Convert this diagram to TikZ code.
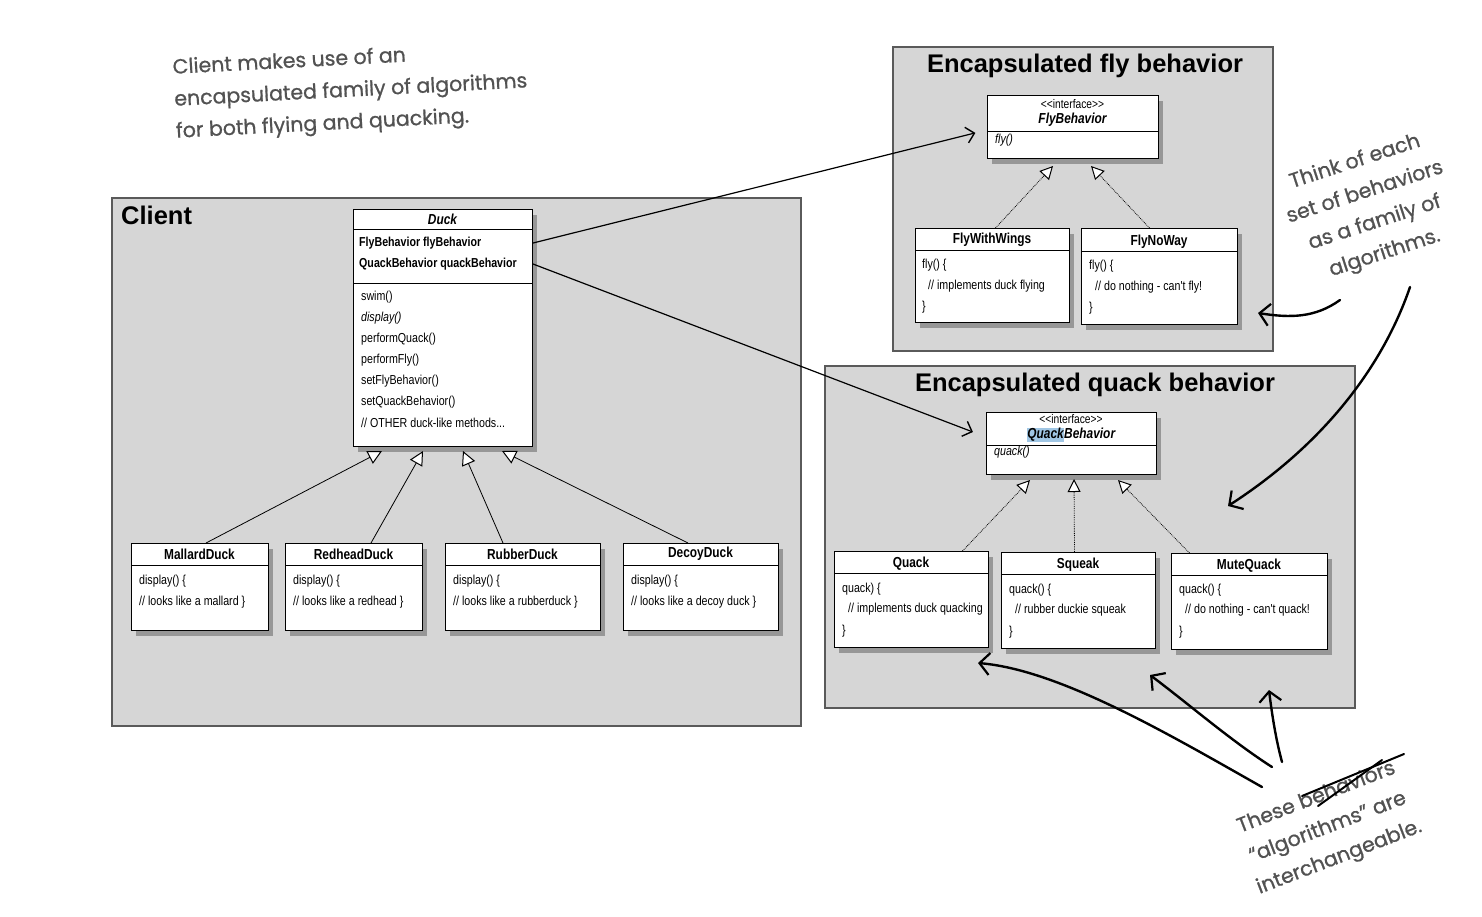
\documentclass[tikz,border=0pt]{standalone}
\usepackage{fontspec}
\setmainfont{Liberation Sans}
\newfontfamily\narrowfont[FakeStretch=0.82]{Liberation Sans}
\newfontfamily\handfont[FakeBold=0.8]{Poppins}
\usetikzlibrary{arrows.meta,shadows,calc}
\definecolor{panelfill}{RGB}{214,214,214}
\definecolor{panelline}{RGB}{90,90,90}
\definecolor{handgray}{RGB}{82,82,82}
\definecolor{hlblue}{RGB}{160,198,228}
\tikzset{
  panel/.style={draw=panelline, fill=panelfill, line width=1.8pt},
  cls/.style={draw=black, fill=white, line width=1pt, inner sep=0pt, anchor=north west,
    drop shadow={shadow xshift=4pt, shadow yshift=-5pt, opacity=0.45, fill=black!70}},
  paneltitle/.style={font=\bfseries\fontsize{25.5}{29}\selectfont, inner sep=0pt},
  clsname/.style={font=\narrowfont\bfseries\fontsize{14.5}{17}\selectfont, inner sep=0pt},
  attr/.style={font=\narrowfont\bfseries\fontsize{13}{15}\selectfont, anchor=west, inner sep=0pt},
  meth/.style={font=\narrowfont\fontsize{13}{15}\selectfont, anchor=west, inner sep=0pt},
  stereo/.style={font=\narrowfont\fontsize{12.5}{14}\selectfont, inner sep=0pt},
  inh/.style={line width=0.8pt, -{Triangle[open, fill=white, length=14pt, width=14pt, line width=1pt]}},
  impl/.style={line width=0.8pt, densely dotted, -{Triangle[open, fill=white, length=13pt, width=13pt, line width=1pt]}},
  assoc/.style={line width=1.2pt, -{Straight Barb[length=8pt, width=16pt, line width=1.4pt]}},
  handarrow/.style={line width=2.4pt, line cap=round, -{Straight Barb[length=10pt, width=22pt, line width=2.2pt]}},
  hand/.style={font=\handfont\fontsize{20.5}{32}\selectfont, text=handgray, inner sep=0pt},
}
\begin{document}
\begin{tikzpicture}[x=1pt, y=-1pt]
\useasboundingbox (0,0) rectangle (1482,916);
\fill[white] (0,0) rectangle (1482,916);

% panels
\draw[panel] (112,198) rectangle (801,726);
\draw[panel] (893,47) rectangle (1273,351);
\draw[panel] (825,366) rectangle (1355,708);
\node[paneltitle, anchor=west] (clientlbl) at (121,215) {Client};
\node[paneltitle] (flytitle) at (1085,66) {Encapsulated fly behavior};
\node[paneltitle] (quacktitle) at (1095,385) {Encapsulated quack behavior};

% Duck
\node[cls, minimum width=179pt, minimum height=237pt] (duck) at (353,209) {};
\draw[line width=1pt] (353,229) -- (532,229);
\draw[line width=1pt] (353,283) -- (532,283);
\node[clsname] (duckname) at (442.5,219) {\itshape Duck};
\node[attr] (flyattr) at (359,243) {FlyBehavior flyBehavior};
\node[attr] (quackattr) at (359,264) {QuackBehavior quackBehavior};
\node[meth] (m1) at (361,297) {swim()};
\node[meth] (m2) at (361,318) {\itshape display()};
\node[meth] (m3) at (361,339) {performQuack()};
\node[meth] (m4) at (361,360) {performFly()};
\node[meth] (m5) at (361,381) {setFlyBehavior()};
\node[meth] (m6) at (361,402) {setQuackBehavior()};
\node[meth] (m7) at (361,423) {// OTHER duck-like methods...};

% duck subclasses
\node[cls, minimum width=137pt, minimum height=87pt] (mallard) at (131,543) {};
\draw[line width=1pt] (131,565) -- (268,565);
\node[clsname] (mallardn) at (199.5,554) {MallardDuck};
\node[meth] (mallard1) at (139,581) {display() \{};
\node[meth] (mallard2) at (139,602) {// looks like a mallard \}};

\node[cls, minimum width=137pt, minimum height=87pt] (redhead) at (285,543) {};
\draw[line width=1pt] (285,565) -- (422,565);
\node[clsname] (redheadn) at (353.5,554) {RedheadDuck};
\node[meth] (redhead1) at (293,581) {display() \{};
\node[meth] (redhead2) at (293,602) {// looks like a redhead \}};

\node[cls, minimum width=155pt, minimum height=87pt] (rubber) at (445,543) {};
\draw[line width=1pt] (445,565) -- (600,565);
\node[clsname] (rubbern) at (522.5,554) {RubberDuck};
\node[meth] (rubber1) at (453,581) {display() \{};
\node[meth] (rubber2) at (453,602) {// looks like a rubberduck \}};

\node[cls, minimum width=155pt, minimum height=87pt] (decoy) at (623,543) {};
\draw[line width=1pt] (623,565) -- (778,565);
\node[clsname] (decoyn) at (700.5,554) {DecoyDuck};
\node[meth] (decoy1) at (631,581) {display() \{};
\node[meth] (decoy2) at (631,602) {// looks like a decoy duck \}};

% inheritance
\coordinate (d1) at ($(duck.south west)+(29,4)$);
\coordinate (d2) at ($(duck.south west)+(70,4)$);
\coordinate (d3) at ($(duck.south west)+(110,4)$);
\coordinate (d4) at ($(duck.south west)+(149,4)$);
\draw[inh] ($(mallard.north)+(6,0)$) -- (d1);
\draw[inh] ($(redhead.north)+(17,0)$) -- (d2);
\draw[inh] ($(rubber.north)+(-20,0)$) -- (d3);
\draw[inh] ($(decoy.north)+(-13,0)$) -- (d4);

% FlyBehavior
\node[cls, minimum width=171pt, minimum height=63pt] (flyif) at (987,95) {};
\draw[line width=1pt] (987,131) -- (1158,131);
\node[stereo] (flyst) at (1072.5,104) {<<interface>>};
\node[clsname] (flyn) at (1072.5,120) {\itshape FlyBehavior};
\node[meth] (flym) at (995,140) {\itshape fly()};

\node[cls, minimum width=154pt, minimum height=94pt] (fww) at (915,228) {};
\draw[line width=1pt] (915,250) -- (1069,250);
\node[clsname] (fwwn) at (992,240) {FlyWithWings};
\node[meth] (fww1) at (922,265) {fly() \{};
\node[meth] (fww2) at (928,286) {// implements duck flying};
\node[meth] (fww3) at (922,307) {\}};

\node[cls, minimum width=156pt, minimum height=96pt] (fnw) at (1081,228) {};
\draw[line width=1pt] (1081,251) -- (1237,251);
\node[clsname] (fnwn) at (1159,242) {FlyNoWay};
\node[meth] (fnw1) at (1089,266) {fly() \{};
\node[meth] (fnw2) at (1095,287) {// do nothing - can't fly!};
\node[meth] (fnw3) at (1089,308) {\}};

\coordinate (f1) at ($(flyif.south west)+(66,7)$);
\coordinate (f2) at ($(flyif.south west)+(104,7)$);
\draw[impl] ($(fww.north)+(3,0)$) -- (f1);
\draw[impl] ($(fnw.north)+(-10,0)$) -- (f2);

% QuackBehavior
\node[cls, minimum width=170pt, minimum height=62pt] (quackif) at (986,412) {};
\draw[line width=1pt] (986,445) -- (1156,445);
\node[stereo] (quackst) at (1071,419) {<<interface>>};
\node[clsname] (quackn) at (1071,435) {\setlength\fboxsep{0.5pt}\itshape\colorbox{hlblue}{Quack}Behavior};
\node[meth] (quackm) at (994,452) {\itshape quack()};

\node[cls, minimum width=154pt, minimum height=96pt] (qq) at (834,551) {};
\draw[line width=1pt] (834,573) -- (988,573);
\node[clsname] (qqn) at (911,564) {Quack};
\node[meth] (qq1) at (842,589) {quack) \{};
\node[meth] (qq2) at (848,609) {// implements duck quacking};
\node[meth] (qq3) at (842,631) {\}};

\node[cls, minimum width=154pt, minimum height=96pt] (sq) at (1001,552) {};
\draw[line width=1pt] (1001,574) -- (1155,574);
\node[clsname] (sqn) at (1078,565) {Squeak};
\node[meth] (sq1) at (1009,590) {quack() \{};
\node[meth] (sq2) at (1015,610) {// rubber duckie squeak};
\node[meth] (sq3) at (1009,632) {\}};

\node[cls, minimum width=156pt, minimum height=96pt] (mq) at (1171,553) {};
\draw[line width=1pt] (1171,575) -- (1327,575);
\node[clsname] (mqn) at (1249,566) {MuteQuack};
\node[meth] (mq1) at (1179,590) {quack() \{};
\node[meth] (mq2) at (1185,610) {// do nothing - can't quack!};
\node[meth] (mq3) at (1179,632) {\}};

\coordinate (q1) at ($(quackif.south west)+(44,5)$);
\coordinate (q2) at ($(quackif.south west)+(88,4)$);
\coordinate (q3) at ($(quackif.south west)+(132,5)$);
\draw[impl] ($(qq.north)+(51,0)$) -- (q1);
\draw[impl] ($(sq.north)+(-4,0)$) -- (q2);
\draw[impl] ($(mq.north)+(-60,0)$) -- (q3);

% associations
\draw[assoc, shorten >=12pt] (duck.east |- flyattr) -- (flyif.west |- 0,130);
\draw[assoc, shorten >=14pt] (duck.east |- quackattr) -- (quackif.west |- 0,437);

% handwritten notes
\node[hand, align=left, rotate=3, anchor=north west] (note1) at (172,58)
  {Client makes use of an\\encapsulated family of algorithms\\for both flying and quacking.};
\node[hand, align=center, rotate=18] (note2) at (1370,208)
  {Think of each\\set of behaviors\\as a family of\\algorithms.};
\node[hand, align=center, rotate=21] (note3) at (1328,828)
  {These behaviors\\“algorithms” are\\interchangeable.};
\draw[line width=2pt, line cap=round] (1302,796) -- (1404,754);
\draw[line width=2pt, line cap=round] (1318,806) -- (1382,760);

\coordinate (n2a) at (1410,287);
\coordinate (n2b) at (1340,300);
\coordinate (n3a) at (1262,787);
\coordinate (n3b) at (1272,767);
\coordinate (n3c) at (1282,762);
\draw[handarrow] (n2a) .. controls (1385,360) and (1330,440) .. (1228,506);
\draw[handarrow] (n2b) .. controls (1315,318) and (1290,318) .. (1258,313);
\draw[handarrow] (n3a) .. controls (1170,735) and (1060,670) .. (978,663);
\draw[handarrow] (n3b) .. controls (1230,740) and (1190,705) .. (1150,675);
\draw[handarrow] (n3c) .. controls (1276,740) and (1272,715) .. (1269,690);
\end{tikzpicture}
\end{document}
